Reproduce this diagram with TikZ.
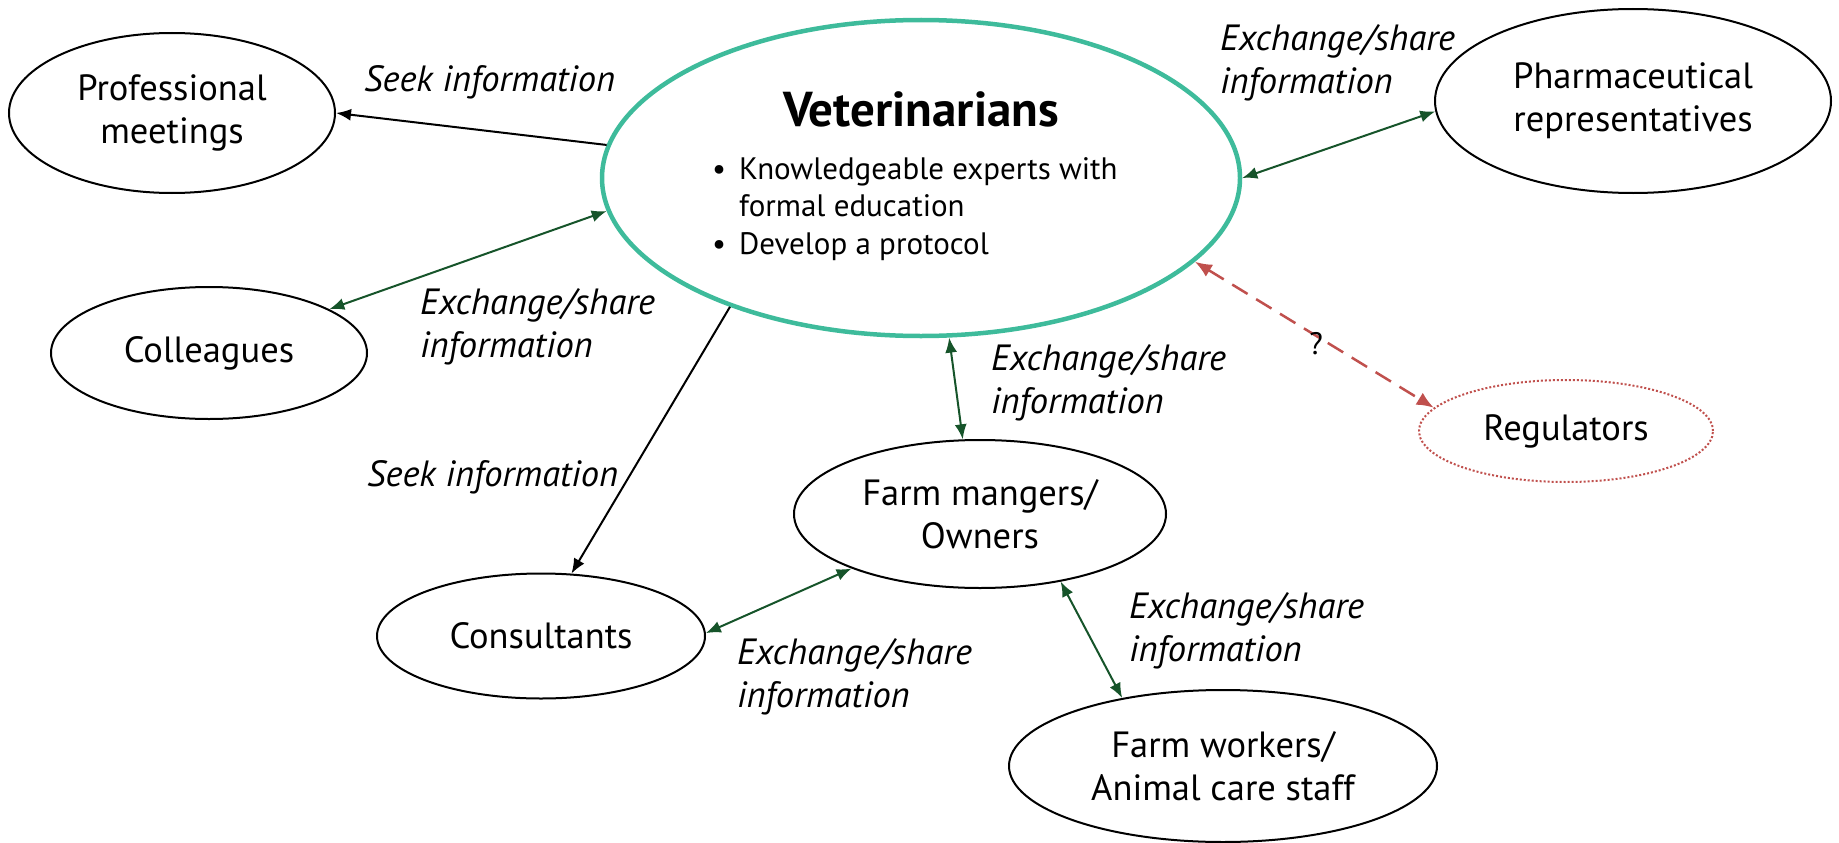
\documentclass[tikz,border=0pt]{standalone}
\usepackage{fontspec}
\setmainfont{PT Sans}
\usetikzlibrary{shapes.geometric, arrows.meta, positioning}

\definecolor{vetteal}{RGB}{62,187,155}
\definecolor{linkgreen}{RGB}{22,84,42}
\definecolor{askred}{RGB}{192,80,77}

\begin{document}
\begin{tikzpicture}[x=1pt, y=-1pt]
\tikzset{
    party/.style={ellipse, draw, line width=2pt, inner sep=0pt, align=center,
        font=\fontsize{36.5}{43}\selectfont},
    linklabel/.style={anchor=west, align=left, inner sep=0pt,
        font=\fontsize{36.5}{43}\selectfont\itshape},
    seek/.style={-{Latex[length=15pt,width=12pt]}, line width=2pt},
    share/.style={{Latex[length=15pt,width=12pt]}-{Latex[length=15pt,width=12pt]},
        line width=2pt, linkgreen},
    unsure/.style={{Latex[length=17pt,width=14pt]}-{Latex[length=17pt,width=14pt]},
        line width=2.5pt, askred, dash pattern=on 18pt off 10pt}
}
\path[use as bounding box] (0,0) rectangle (1839,843);

% Groups
\node[ellipse, draw=vetteal, line width=4.5pt, minimum width=638pt, minimum height=316pt] (vet) at (921,178){};
\node[party, minimum width=326pt, minimum height=160pt] (meet) at (172,113){Professional\\meetings};
\node[party, minimum width=316pt, minimum height=132pt] (coll) at (209,353){Colleagues};
\node[party, minimum width=396pt, minimum height=184pt] (pharma) at (1633,101){Pharmaceutical\\representatives};
\node[party, draw=askred, dotted, minimum width=294pt, minimum height=102pt] (reg) at (1566,431){Regulators};
\node[party, minimum width=372pt, minimum height=148pt] (farm) at (980,514){Farm mangers/\\Owners};
\node[party, minimum width=328pt, minimum height=125pt] (cons) at (541,636){Consultants};
\node[party, minimum width=428pt, minimum height=152pt] (work) at (1223,766){Farm workers/\\Animal care staff};

% Veterinarians text
\node[font=\fontsize{49}{55}\selectfont\bfseries] (vettitle) at (921,109){Veterinarians};
\node[anchor=west, align=left, inner sep=0pt, font=\fontsize{31}{37.5}\selectfont] (vetlist) at (712,209){%
\makebox[27pt][l]{\textbullet}Knowledgeable experts with\\
\hspace*{27pt}formal education\\
\makebox[27pt][l]{\textbullet}Develop a protocol};

% Links
\draw[seek] (vet.174) -- (meet.0);
\draw[share] (vet.186) -- (coll.20);
\draw[seek] (vet.214) -- (cons.64);
\draw[share] (vet.280) -- (farm.103);
\draw[share] (vet.0) -- (pharma.183);
\draw[unsure] (vet.343) -- (reg.170);
\draw[share] (farm.203) -- (cons.1);
\draw[share] (farm.320) -- (work.146);

% Link labels
\node[linklabel] (seekmeet) at (364,82){Seek information};
\node[linklabel] (sharecoll) at (420,327){Exchange/share\\information};
\node[linklabel] (seekcons) at (367,477){Seek information};
\node[linklabel] (sharefarm) at (991,383){Exchange/share\\information};
\node[linklabel] (sharepharma) at (1220,63){Exchange/share\\information};
\node[font=\fontsize{31}{36}\selectfont] (qmark) at (1316,344){?};
\node[linklabel] (sharecons) at (737,677){Exchange/share\\information};
\node[linklabel] (sharework) at (1129,631){Exchange/share\\information};
\end{tikzpicture}
\end{document}
